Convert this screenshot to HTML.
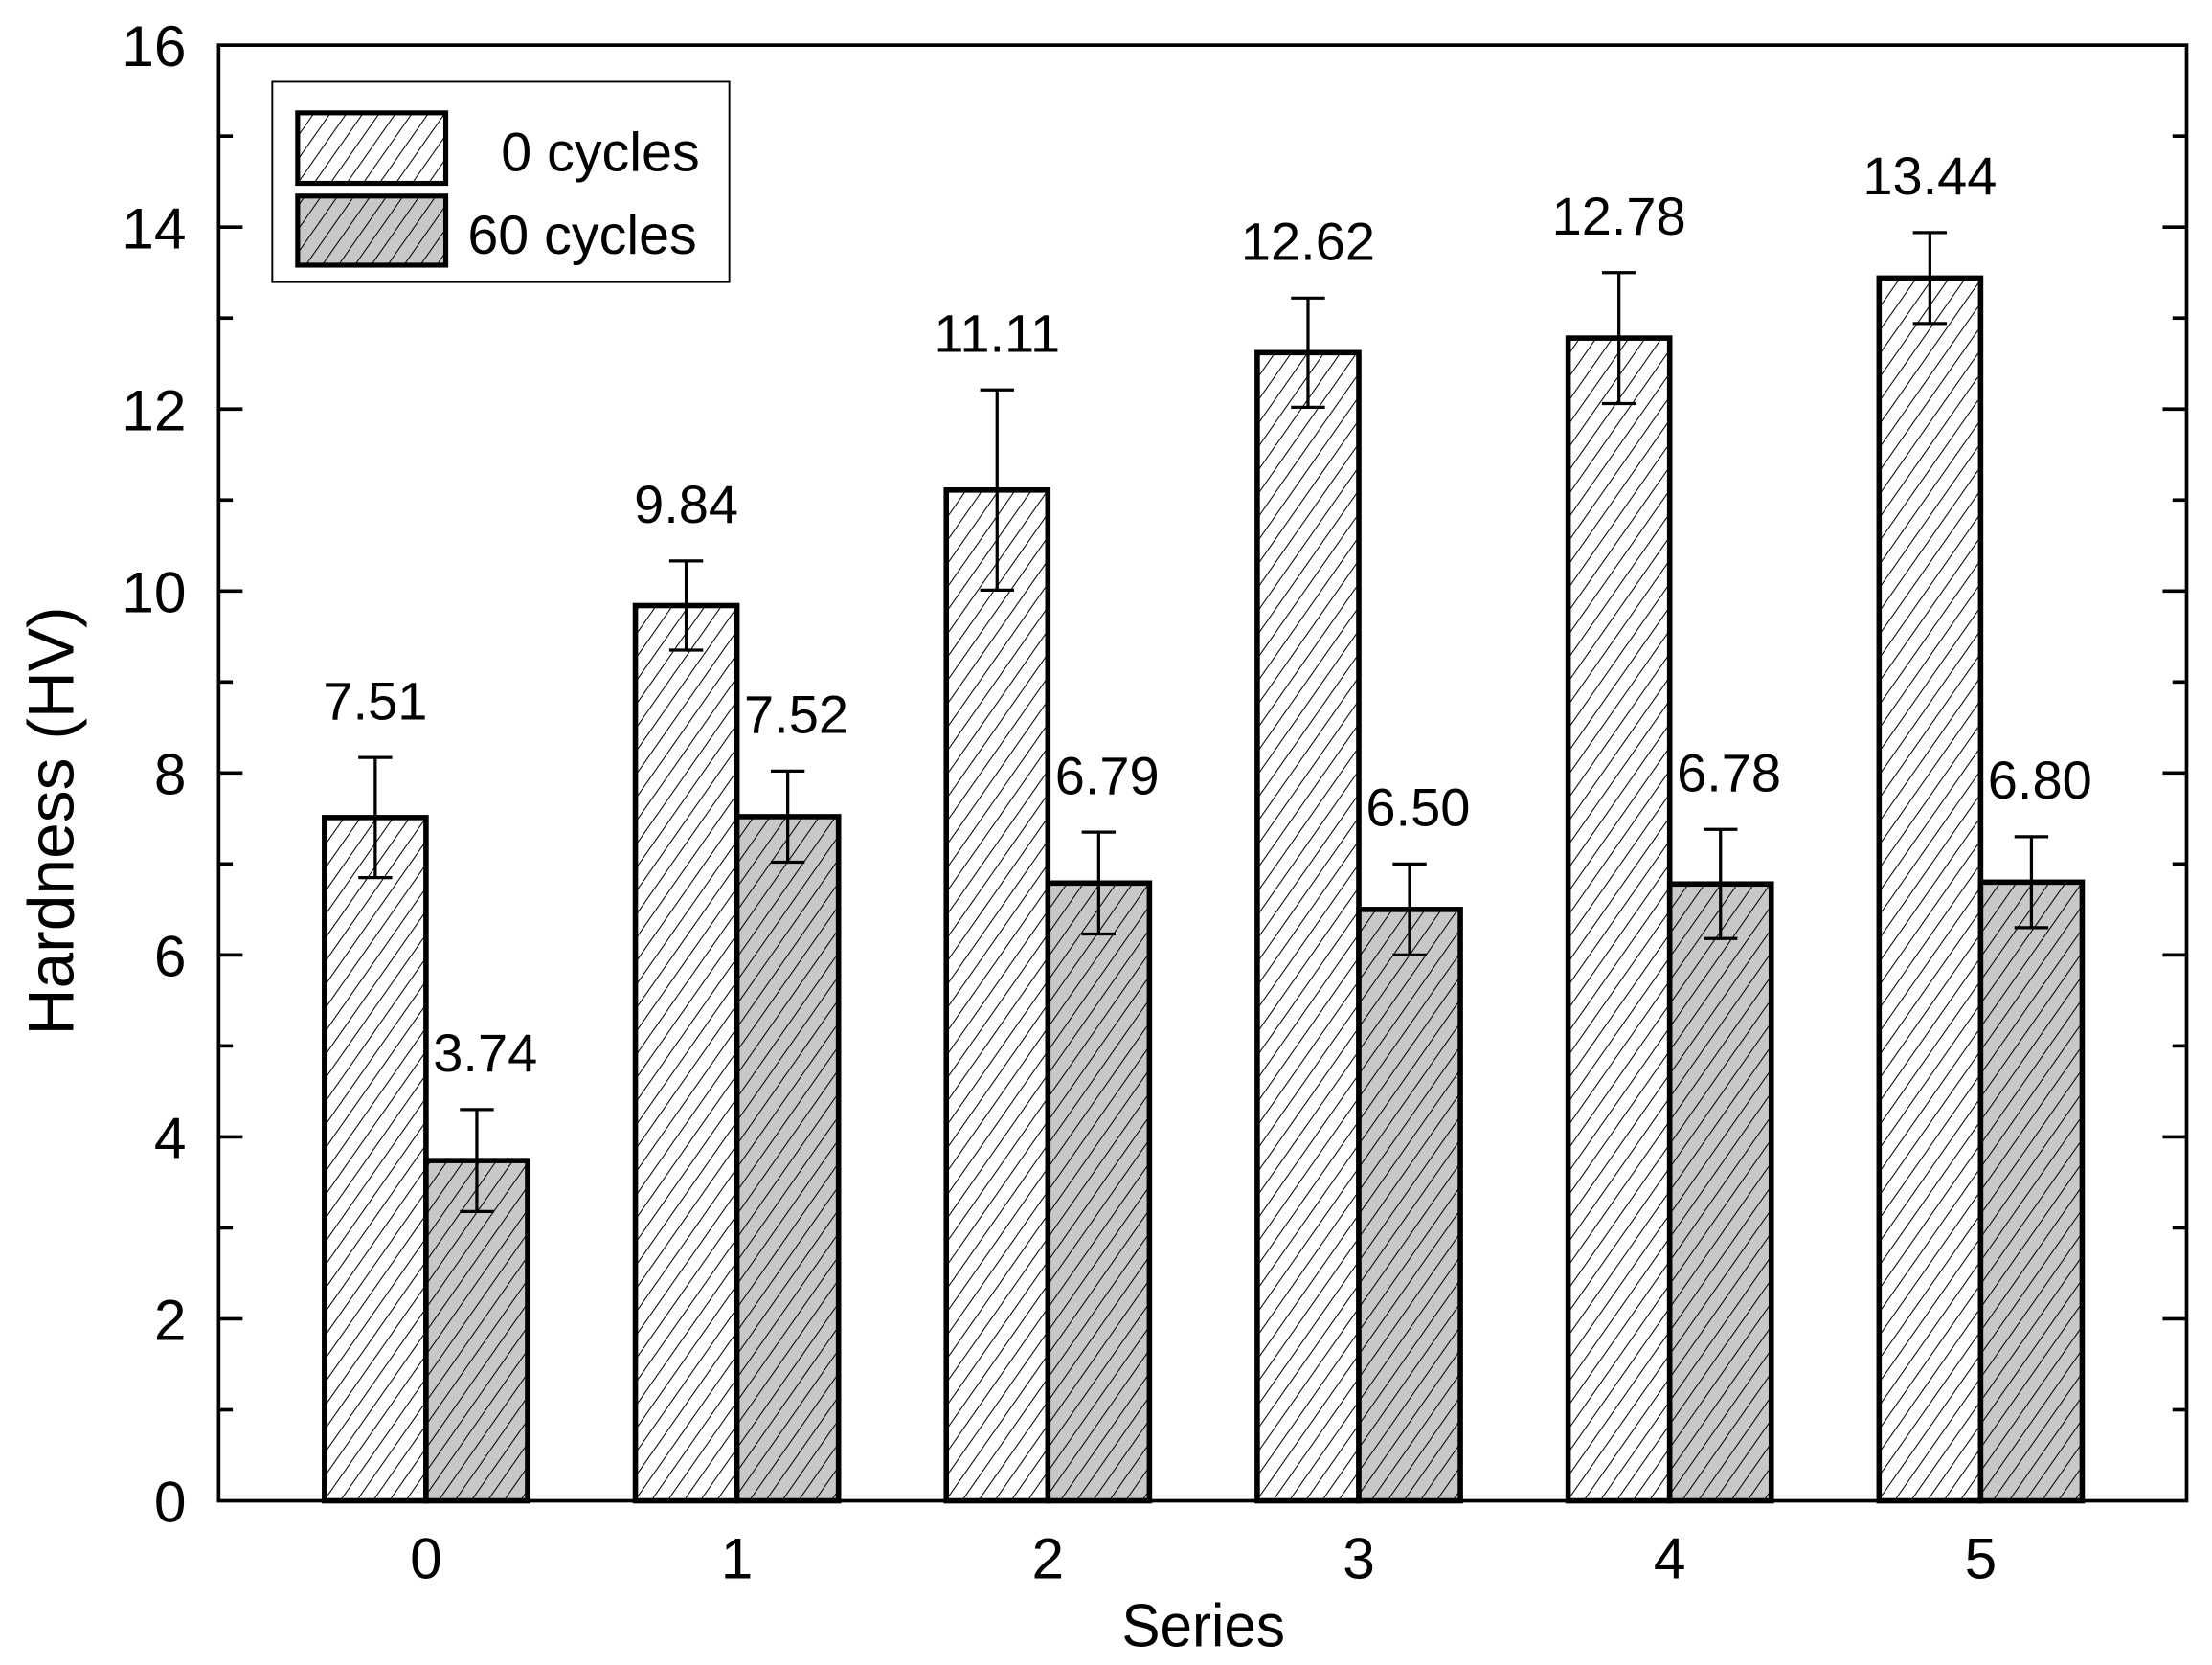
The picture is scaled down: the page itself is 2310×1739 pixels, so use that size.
<!DOCTYPE html>
<html><head><meta charset="utf-8"><style>html,body{margin:0;padding:0;background:#fff}svg{display:block}</style></head>
<body>
<svg id="chart" width="2310" height="1739" viewBox="0 0 1568 1180.4" preserveAspectRatio="none" xmlns="http://www.w3.org/2000/svg" font-family="Liberation Sans, Arial, sans-serif">
<defs>
<pattern id="hatchW" patternUnits="userSpaceOnUse" width="9.5" height="9.5" patternTransform="rotate(35)">
<rect width="9.5" height="9.5" fill="#fff"/><line x1="0" y1="0" x2="0" y2="9.5" stroke="#000" stroke-width="1.4"/></pattern>
<pattern id="hatchG" patternUnits="userSpaceOnUse" width="9.5" height="9.5" patternTransform="rotate(35)">
<rect width="9.5" height="9.5" fill="#c8c8c8"/><line x1="0" y1="0" x2="0" y2="9.5" stroke="#000" stroke-width="1.4"/></pattern>
</defs>
<g id="marks"></g>
<rect x="155" y="32" width="1395" height="1032" fill="none" stroke="#000" stroke-width="2.5"/>
<g id="axes"></g>
<text x="853" y="1167" font-size="43" text-anchor="middle" transform="translate(853,0) scale(0.95,1) translate(-853,0)">Series</text>
<text transform="translate(52,582) rotate(-90)" font-size="46" text-anchor="middle">Hardness (HV)</text>
<g>
<rect x="193" y="58" width="324" height="142" fill="#fff" stroke="#000" stroke-width="1.3"/>
<rect x="211" y="80" width="105" height="50" fill="url(#hatchW)" stroke="#000" stroke-width="3.5"/>
<text x="496" y="121" font-size="39" text-anchor="end">0 cycles</text>
<rect x="211" y="139" width="105" height="49" fill="url(#hatchG)" stroke="#000" stroke-width="3.5"/>
<text x="494" y="180" font-size="39" text-anchor="end">60 cycles</text>
</g>
</svg>
<script>
const categories = ["0","1","2","3","4","5"];
const values0 = [7.51, 9.84, 11.11, 12.62, 12.78, 13.44];
const values60 = [3.74, 7.52, 6.79, 6.50, 6.78, 6.80];
const err0 = [0.66, 0.49, 1.10, 0.60, 0.72, 0.50];
const err60 = [0.56, 0.50, 0.56, 0.50, 0.60, 0.50];
const labels0 = ["7.51","9.84","11.11","12.62","12.78","13.44"];
const labels60 = ["3.74","7.52","6.79","6.50","6.78","6.80"];
const yTicks = [0,2,4,6,8,10,12,14,16];

const NS = "http://www.w3.org/2000/svg";
const y = v => 1064 - v * 64.5;
const xc = i => 302 + i * 220.4;
const BW = 72;
const marks = document.getElementById('marks');
const axes = document.getElementById('axes');
function mk(tag, attrs, parent){const e=document.createElementNS(NS,tag);for(const k in attrs)e.setAttribute(k,attrs[k]);parent.appendChild(e);return e;}

function drawBar(i, v, e, lab, fill, x0, name, dx){
  const r = mk('rect',{x:x0,y:y(v),width:BW,height:y(0)-y(v),fill:fill,stroke:'#000','stroke-width':3.8},marks);
  
  
  const cx = x0 + BW/2;
  const g = mk('g',{stroke:'#000','stroke-width':2.2},marks);
  
  
  mk('line',{x1:cx,x2:cx,y1:y(v+e),y2:y(v-e)},g);
  mk('line',{x1:cx-12,x2:cx+12,y1:y(v+e),y2:y(v+e)},g);
  mk('line',{x1:cx-12,x2:cx+12,y1:y(v-e),y2:y(v-e)},g);
  const t = mk('text',{x:cx+dx,y:y(v+e)-27,'font-size':38,'text-anchor':'middle'},marks);
  t.textContent = lab;
  
  
}
categories.forEach((c,i)=>{
  drawBar(i, values0[i], err0[i], labels0[i], 'url(#hatchW)', xc(i)-BW, 'zero-cycles', 0);
  drawBar(i, values60[i], err60[i], labels60[i], 'url(#hatchG)', xc(i), 'sixty-cycles', 6);
  const t = mk('text',{x:xc(i),y:1119,'font-size':41,'text-anchor':'middle'},axes);
  t.textContent = c;
  
  
});
yTicks.forEach(v=>{
  const t = mk('text',{x:132,y:y(v)+15,'font-size':41,'text-anchor':'end'},axes);
  t.textContent = v;
  
  
  if (v>0 && v<16){
    mk('line',{x1:155,x2:172,y1:y(v),y2:y(v),stroke:'#000','stroke-width':2.5},axes);
    mk('line',{x1:1533,x2:1550,y1:y(v),y2:y(v),stroke:'#000','stroke-width':2.5},axes);
  }
  if (v<16){
    mk('line',{x1:155,x2:165,y1:y(v+1),y2:y(v+1),stroke:'#000','stroke-width':2.5},axes);
    mk('line',{x1:1540,x2:1550,y1:y(v+1),y2:y(v+1),stroke:'#000','stroke-width':2.5},axes);
  }
});
</script>
</body></html>
